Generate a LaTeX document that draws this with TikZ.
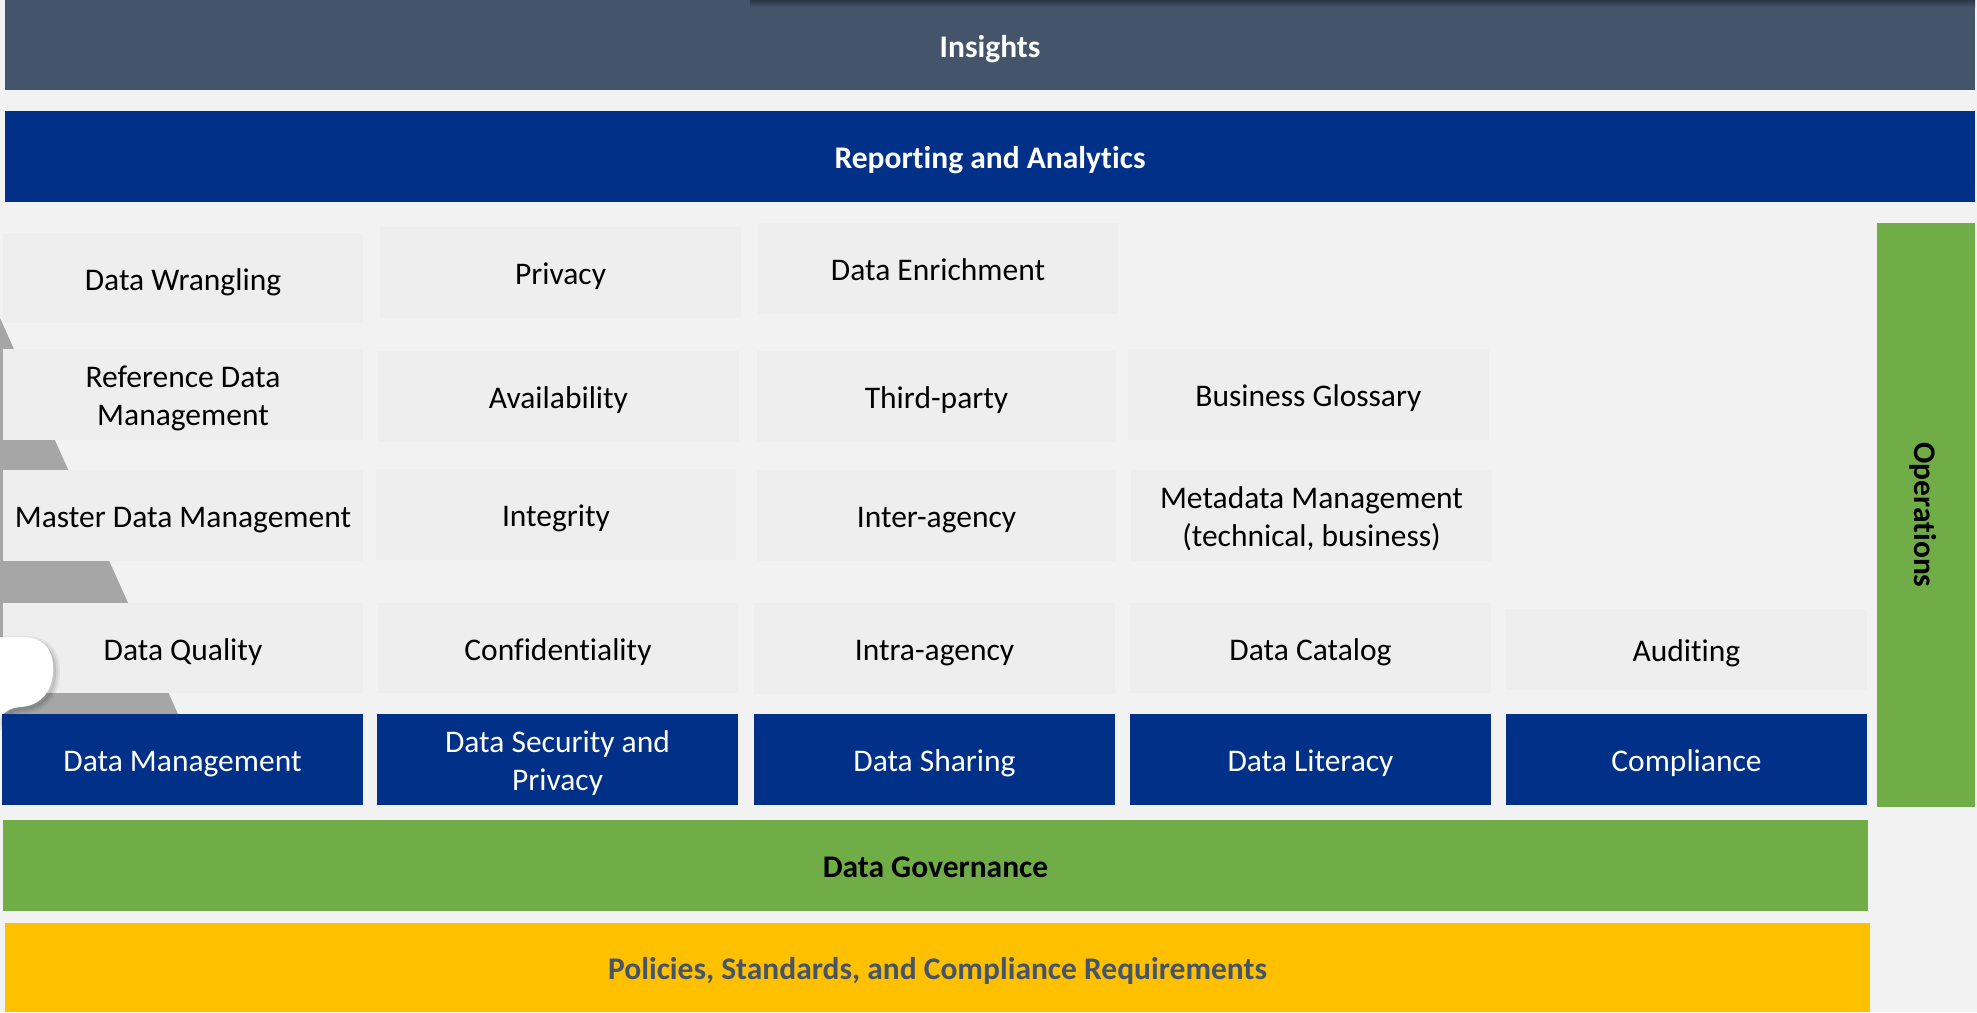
\documentclass[tikz,border=0pt]{standalone}
\usepackage{fontspec}
\setmainfont{Carlito}[Ligatures=NoCommon]
\definecolor{bgc}{HTML}{F2F2F2}
\definecolor{cellc}{HTML}{EEEEEE}
\definecolor{slate}{HTML}{44546A}
\definecolor{slatedark}{HTML}{2C3747}
\definecolor{navy}{HTML}{003087}
\definecolor{leaf}{HTML}{70AD47}
\definecolor{amber}{HTML}{FFC000}
\definecolor{tri}{HTML}{A6A6A6}
\newcommand\txtfont{\fontsize{31.5}{38.4}\selectfont}
\newcommand\sttop{\rule{0pt}{34pt}}
\newcommand\sttoptwo{\rule{0pt}{33pt}}
\newcommand\stbot{\rule[-10pt]{0pt}{10pt}}
\newcommand\blobpath{(0,637) -- (22,637) .. controls (48,637) and (54,655) .. (53,672) .. controls (52,692) and (40,706) .. (20,707) .. controls (10,708) and (4,712) .. (0,718) -- cycle}
\tikzset{
  rc/.style n args={4}{anchor=north west, at={(#1,#2)}, minimum width={#3-#1}, minimum height={#4-#2}},
  base/.style={inner sep=0pt, outer sep=0pt, align=center, font=\txtfont,
    execute at begin node=\sttop, execute at end node=\stbot},
  twoline/.style={text width=340pt, align=flush center, execute at begin node=\sttoptwo},
  cell/.style={base, fill=cellc, text=black},
  pillar/.style={base, fill=navy, text=white},
  band/.style={base, font=\txtfont\bfseries}
}
\begin{document}
\begin{tikzpicture}[x=1pt,y=-1pt]
\useasboundingbox (0,0) rectangle (1977,1012);
\fill[bgc] (0,0) rectangle (1977,1012);
% gray staircase triangle
\fill[tri] (0,318) -- (178,714) -- (0,714) -- cycle;
% light cells
\node[cell, rc={3}{233}{363}{323}] (dw) {Data Wrangling};
\node[cell, rc={380}{227}{741}{318}] (pr) {Privacy};
\node[cell, rc={758}{223}{1118}{314}] (de) {Data Enrichment};
\node[cell, twoline, rc={3}{349}{363}{440}] (rdm) {Reference Data\\Management};
\node[cell, rc={378}{351}{739}{442}] (av) {Availability};
\node[cell, rc={757}{351}{1116}{442}] (tp) {Third-party};
\node[cell, rc={1128}{349}{1489}{440}] (bgl) {Business Glossary};
\node[cell, rc={3}{470}{363}{561}] (mdm) {Master Data Management};
\node[cell, rc={376}{469}{736}{560}] (ig) {Integrity};
\node[cell, rc={757}{470}{1116}{561}] (inter) {Inter-agency};
\node[cell, twoline, rc={1131}{470}{1492}{561}] (mm) {Metadata Management\\(technical, business)};
\node[cell, rc={3}{603}{363}{693}] (dq) {Data Quality};
\node[cell, rc={378}{603}{738}{693}] (cf) {Confidentiality};
\node[cell, rc={754}{603}{1115}{694}] (intra) {Intra-agency};
\node[cell, rc={1130}{603}{1491}{693}] (dc) {Data Catalog};
\node[cell, rc={1506}{609}{1867}{690}] (au) {Auditing};
% white blob with soft shadow
\begin{scope}[shift={(3,3)}]
  \fill[black, opacity=0.10] \blobpath;
  \draw[black, opacity=0.05, line width=8pt] \blobpath;
  \draw[black, opacity=0.06, line width=4pt] \blobpath;
\end{scope}
\fill[white] \blobpath;
% navy pillars
\node[pillar, rc={2}{714}{363}{805}] (bdm) {Data Management};
\node[pillar, twoline, rc={377}{714}{738}{805}] (bsec) {Data Security and\\Privacy};
\node[pillar, rc={754}{714}{1115}{805}] (bshare) {Data Sharing};
\node[pillar, rc={1130}{714}{1491}{805}] (blit) {Data Literacy};
\node[pillar, rc={1506}{714}{1867}{805}] (bcomp) {Compliance};
% bands
\node[band, fill=slate, text=white, rc={5}{0}{1975}{90}] (ins) {Insights};
\shade[top color=slatedark, bottom color=slate] (750,0) rectangle (1975,7);
\node[band, fill=navy, text=white, rc={5}{111}{1975}{202}] (rep) {Reporting and Analytics};
\node[band, fill=leaf, text=black, rc={3}{820}{1868}{911}] (gov) {Data Governance};
\node[band, fill=amber, text=slate, rc={5}{923}{1870}{1012}] (pol) {Policies, Standards, and Compliance Requirements};
\fill[leaf] (1877,223) rectangle (1975,807);
\coordinate (opsc) at (1926,515);
\node[band, text=black, rotate=-90] (ops) at (opsc) {Operations};
\end{tikzpicture}
\end{document}
